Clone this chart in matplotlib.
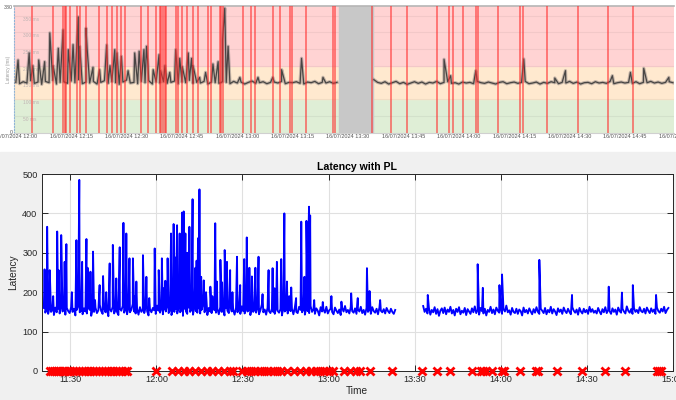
# Import necessary libraries
import numpy as np
import matplotlib
matplotlib.use('Agg')
import matplotlib.pyplot as plt
from matplotlib.patches import Rectangle

plt.rcParams['font.family'] = ['Liberation Sans', 'DejaVu Sans']

# ---------------- data: top screenshot panel (minutes after 12:00) ----------------
top_seg1_start, top_seg2_start = 0, 97
top_seg1 = [150, 146, 152, 148, 155, 147, 151, 144, 153, 149,
            156, 145, 150, 152, 147, 154, 149, 158, 146, 151,
            148, 153, 145, 150, 155, 147, 152, 149, 144, 151,
            157, 148, 150, 146, 153, 149, 155, 145, 151, 148,
            152, 147, 150, 154, 146, 151, 149, 156, 147, 150,
            148, 153, 145, 151, 149, 147, 152, 150, 146, 153,
            148, 151, 145, 150, 154, 147, 149, 152, 146, 150,
            151, 148, 153, 146, 150, 149, 152, 147, 145, 151,
            149, 153, 146, 150, 148, 152, 147, 150]
top_seg2 = [158, 150, 147, 152, 145, 149, 153, 146, 150, 144,
            148, 152, 147, 151, 145, 150, 148, 153, 146, 150,
            152, 147, 149, 145, 151, 148, 150, 146, 153, 149,
            147, 151, 148, 145, 150, 152, 146, 149, 151, 147,
            150, 153, 146, 148, 151, 145, 150, 147, 152, 149,
            146, 150, 148, 153, 147, 151, 145, 149, 150, 146,
            152, 148, 150, 147, 153, 146, 149, 151, 148, 150,
            147, 152, 146, 150, 149, 153, 148, 151, 147, 150,
            152, 149]
top_spike_t = [0.6, 3.6, 4.6, 6.2, 7.8, 9.2, 10.1, 11.5, 12.8, 14.2, 15.5, 16.9, 17.3, 19.0,
               19.3, 20.9, 22.7, 24.6, 25.5, 26.8, 27.4, 28.6, 30.4, 32.2, 33.4, 34.7, 35.4,
               35.8, 37.2, 38.8, 39.2, 40.4, 41.7, 43.3, 44.4, 45.1, 46.7, 47.6, 48.0, 49.8,
               51.4, 53.4, 54.8, 56.0, 56.6, 57.5, 60.7, 65.6, 69.6, 72.0, 77.4, 83.2,
               116.0, 117.8, 124.6, 137.6, 146.0, 148.9, 161.6, 166.5, 170.1, 176.9]
top_spike_v = [217, 238, 200, 217, 212, 298, 200, 252, 307, 248, 263, 346, 258, 312,
               252, 195, 188, 262, 200, 248, 238, 228, 185, 238, 243, 248, 258,
               200, 188, 233, 185, 200, 180, 248, 222, 197, 238, 222, 200, 165,
               180, 205, 212, 277, 372, 258, 165, 165, 165, 188, 222, 165,
               219, 170, 185, 220, 163, 185, 170, 180, 192, 165]
top_gap = (87.5, 96.7)
top_loss_t = [4.4, 10.1, 12.8, 13.3, 13.7, 14.6, 16.6, 17.3, 19.0, 22.6, 24.6, 26.1, 27.3,
              28.6, 29.5, 34.0, 35.8, 37.9, 39.0, 39.4, 39.9, 40.3, 40.8, 43.5, 43.9, 44.9,
              46.5, 48.0, 49.4, 52.1, 53.0, 55.2, 55.6, 56.0, 61.5, 63.8, 64.7, 69.7, 71.5,
              74.2, 74.7, 78.7, 85.9, 86.4, 96.6, 101.5, 106.1, 114.2, 117.3, 118.4, 121.2,
              124.6, 125.3, 130.7, 136.6, 137.5, 143.8, 152.3, 160.5, 167.3]
top_tick_min = [0, 15, 30, 45, 60, 75, 90, 105, 120, 135, 150, 165, 180]
top_tick_labels = ['16/07/2024 12:00', '16/07/2024 12:15', '16/07/2024 12:30', '16/07/2024 12:45',
                   '16/07/2024 13:00', '16/07/2024 13:15', '16/07/2024 13:30', '16/07/2024 13:45',
                   '16/07/2024 14:00', '16/07/2024 14:15', '16/07/2024 14:30', '16/07/2024 14:45',
                   '16/07/2024 15:00']
top_grid_ms = [50, 100, 150, 200, 250, 300, 350]

# ---------------- data: bottom "Latency with PL" (minutes after 11:00) ----------------
seg1_start, seg2_start = 20.75, 153.0   # samples every 0.5 min
seg1_lat = [160, 148, 157, 145, 163, 150, 155, 142, 161, 149, 158, 146, 165, 151, 156, 143, 160, 152, 147, 162,
            150, 158, 141, 155, 166, 149, 153, 144, 159, 151, 146, 163, 155, 140, 157, 150, 161, 147, 154, 168,
            152, 145, 160, 149, 156, 139, 158, 151, 163, 146, 155, 150, 142, 159, 153, 165, 148, 157, 144, 161,
            149, 155, 170, 151, 146, 158, 143, 162, 150, 156, 147, 164, 152, 141, 157, 149, 160, 154, 145, 166,
            153, 148, 159, 144, 156, 151, 168, 147, 155, 142, 160, 150, 157, 146, 163, 149, 154, 140, 158, 152,
            145, 161, 150, 156, 143, 165, 152, 148, 159, 146, 155, 171, 149, 157, 142, 160, 151, 147, 163, 154,
            148, 158, 144, 162, 150, 155, 141, 159, 153, 147, 166, 151, 156, 143, 161, 149, 157, 145, 164, 152,
            146, 159, 151, 155, 142, 163, 150, 157, 148, 160, 144, 154, 169, 149, 156, 143, 161, 152, 147, 158,
            150, 145, 162, 153, 148, 157, 141, 160, 151, 155, 146, 164, 152, 158, 144, 161, 150, 147, 163, 155,
            149, 156, 143, 160, 152, 147, 165, 150, 157, 145, 159, 153, 141, 162, 151, 156, 148, 163, 146, 154,
            158, 150, 144, 161, 153, 147, 156, 142, 160, 151, 165, 149, 155, 146, 162, 152, 148, 159, 145, 157,
            151, 163, 147, 155, 143, 160, 150, 156, 145, 162, 152, 148, 158, 144, 161, 153, 149, 157, 146, 160,
            152, 147, 158, 150, 145, 155]
seg2_lat = [165, 150, 158, 146, 160, 143, 155, 149, 162, 145, 157, 140, 153, 159, 147, 161, 144, 156, 150, 163,
            146, 155, 141, 158, 150, 162, 144, 153, 148, 160, 142, 157, 151, 145, 159, 149, 164, 147, 155, 143,
            160, 152, 146, 158, 141, 155, 150, 163, 147, 156, 144, 161, 153, 148, 159, 145, 157, 151, 166, 149,
            154, 143, 160, 150, 147, 158, 145, 156, 152, 141, 161, 149, 155, 146, 159, 151, 144, 157, 148, 162,
            150, 145, 158, 153, 147, 160, 144, 155, 149, 163, 146, 157, 151, 142, 159, 150, 156, 145, 161, 152,
            147, 158, 150, 144, 162, 153, 148, 156, 143, 160, 151, 146, 158, 149, 155, 145, 163, 150, 157, 148,
            153, 146, 160, 151, 144, 157, 149, 162, 147, 155, 152, 145, 159, 150, 156, 143, 161, 152, 148, 158,
            151, 146, 164, 153, 148, 157, 145, 160, 150, 155, 147, 162, 152, 149, 158, 146, 161, 153, 147, 159,
            150, 156, 145, 161, 152, 148, 158, 151, 163, 147, 155, 160]
spike_t = [21.0, 21.9, 22.8, 24.0, 25.4, 25.9, 26.8, 28.0, 28.6, 30.5, 32.1, 33.1, 34.1, 35.6, 36.0,
           37.0, 37.9, 38.6, 40.2, 41.4, 42.5, 43.7, 44.8, 46.0, 47.2, 48.5, 49.5, 50.6, 51.8,
           52.5, 53.0, 55.3, 56.5, 57.5, 59.4, 60.8, 61.9, 62.5, 63.1, 63.9, 65.1, 66.0, 66.6,
           67.2, 68.1, 68.9, 69.5, 70.1, 70.8, 71.5, 72.6, 73.6, 74.0, 74.5, 75.0, 75.6, 76.5,
           77.3, 78.8, 79.5, 80.5, 81.1, 82.3, 82.9, 83.8, 84.6, 85.7, 86.5, 88.1, 89.2, 90.6,
           91.5, 92.4, 93.3, 94.5, 95.6, 97.0, 99.1, 100.5, 101.2, 102.0, 103.5, 104.6, 105.5,
           106.3, 107.0, 108.7, 110.5, 111.6, 112.3, 112.8, 113.2, 113.6, 115.0, 118.0, 121.0,
           124.5, 127.9, 130.2, 133.4, 134.3, 138.0,
           154.6, 172.0, 173.8, 179.6, 180.5, 193.5, 204.9, 217.7, 222.3, 226.1, 234.2]
spike_v = [258, 366, 256, 190, 354, 256, 345, 277, 322, 200, 332, 485, 277, 335, 262,
           252, 303, 180, 218, 241, 200, 273, 320, 235, 314, 376, 349, 286, 286,
           190, 227, 294, 239, 185, 311, 256, 286, 210, 229, 286, 349, 373, 288,
           370, 349, 402, 405, 349, 300, 366, 436, 262, 280, 337, 461, 239, 230,
           200, 214, 190, 375, 227, 282, 225, 307, 277, 256, 200, 290, 218, 284,
           339, 262, 240, 262, 290, 195, 256, 261, 210, 277, 284, 400, 227,
           190, 212, 185, 379, 239, 381, 264, 417, 395, 180, 175, 190,
           176, 197, 185, 261, 203, 180,
           193, 271, 211, 218, 245, 282, 193, 214, 199, 218, 193]
loss_t = [22.8, 23.5, 24.3, 25.0, 25.8, 26.5, 27.3, 28.0, 29.0, 30.0, 31.0, 32.0, 33.0, 34.0,
          35.0, 36.0, 37.0, 38.0, 39.0, 40.0, 41.0, 42.0, 43.0, 44.0, 45.0, 46.0, 47.0,
          48.0, 49.0, 49.7, 60.0, 65.5, 67.5, 69.5, 71.5, 73.5, 75.5, 77.5, 79.5, 81.5,
          83.5, 85.5, 86.7, 90.0, 91.5, 93.0, 94.5, 96.0, 97.5, 99.0, 100.5, 102.0,
          103.5, 105.5, 108.0, 110.0, 112.0, 114.0, 115.5, 117.0, 118.5, 120.0, 121.5,
          125.5, 127.5, 129.5, 131.0, 134.5, 142.3, 152.5, 157.8, 162.2, 170.0, 173.0,
          174.0, 175.0, 177.1, 180.6, 181.3, 186.8, 192.2, 193.0, 199.6, 208.3, 216.4,
          223.4, 234.5, 235.3, 236.0]
time_ticks = [30, 60, 90, 120, 150, 180, 210, 240]
time_labels = ['11:30', '12:00', '12:30', '13:00', '13:30', '14:00', '14:30', '15:00']
lat_ticks = [0, 100, 200, 300, 400, 500]


def merge(start, step, base, sp_t, sp_v):
    # base samples on a regular grid, plus spikes that fall inside the segment
    t = start + step * np.arange(len(base))
    sp_t = np.array(sp_t)
    sp_v = np.array(sp_v)
    keep = (sp_t >= t[0]) & (sp_t <= t[-1])
    all_t = np.concatenate([t, sp_t[keep]])
    all_v = np.concatenate([np.array(base, float), sp_v[keep]])
    order = np.argsort(all_t, kind='stable')
    return all_t[order], all_v[order]


fig = plt.figure(figsize=(6.76, 4.0), dpi=100, facecolor='white')
# grey MATLAB figure background for the lower half
fig.patches.append(Rectangle((0, 0), 1, 1 - 152 / 400, transform=fig.transFigure,
                             color='#f0f0f0', zorder=-5))

# ---------------- top panel ----------------
ax1 = fig.add_axes([14 / 676, 1 - 132.5 / 400, 660 / 676, 127 / 400])
ax1.set_xlim(-0.5, 178.3)
ax1.set_ylim(0, 380)
ax1.axhspan(0, 100, color='#dfeed6', zorder=0)
ax1.axhspan(100, 200, color='#ffe9cf', zorder=0)
ax1.axhspan(200, 380, color='#ffd3d3', zorder=0)
for g in top_grid_ms:
    ax1.axhline(g, color='black', alpha=0.05, lw=0.8, zorder=1)
    ax1.text(2, g - 3, f'{g} ms', fontsize=3.5, color='#c0b4b4', va='top', zorder=1)
ax1.axvspan(top_gap[0], top_gap[1], color='#c8c8c8', zorder=2)

for start, base in [(top_seg1_start, top_seg1), (top_seg2_start, top_seg2)]:
    tt, vv = merge(start, 1.0, base, top_spike_t, top_spike_v)
    ax1.plot(tt, vv, color='#8a8080', alpha=0.5, lw=2.4, zorder=3)
    ax1.plot(tt, vv, color='#333333', alpha=0.85, lw=0.9, zorder=4)

for t in top_loss_t:
    ax1.axvline(t, color='#ff2a2a', alpha=0.6, lw=1.3, zorder=5)

ax1.spines['right'].set_visible(False)
ax1.spines['top'].set_color('#b5b5b5')
ax1.spines['top'].set_linewidth(1.2)
ax1.spines['bottom'].set_color('#d0d0d0')
ax1.spines['left'].set_color('#8fb4d8')
ax1.spines['left'].set_linestyle(':')
ax1.set_xticks([])
ax1.set_yticks([])
ax1.text(-0.002, 0.985, '380', transform=ax1.transAxes, fontsize=3.8, color='#555555',
         ha='right', va='center')
ax1.text(-0.002, 0.0, '0', transform=ax1.transAxes, fontsize=3.8, color='#555555',
         ha='right', va='center')
ax1.text(-0.004, 0.5, 'Latency (ms)', transform=ax1.transAxes, fontsize=3.3, color='#999999',
         rotation=90, ha='right', va='center')
for m, lab in zip(top_tick_min, top_tick_labels):
    ax1.text(m, -13, lab, fontsize=4, color='#555555', ha='center', va='center', clip_on=False)

# ---------------- bottom panel ----------------
ax2 = fig.add_axes([41.7 / 676, 1 - 371 / 400, 631 / 676, 197 / 400])
ax2.set_facecolor('white')
t1, v1 = merge(seg1_start, 0.5, seg1_lat, spike_t, spike_v)
t2, v2 = merge(seg2_start, 0.5, seg2_lat, spike_t, spike_v)
ax2.plot(t1, v1, color='#0000ff', lw=1.35, zorder=3)
ax2.plot(t2, v2, color='#0000ff', lw=1.35, zorder=3)
ax2.plot(loss_t, np.zeros(len(loss_t)), linestyle='none', marker='x', color='#ff0000',
         markersize=5.5, markeredgewidth=2.0, zorder=4, clip_on=False)

ax2.set_xlim(20, 240)
ax2.set_ylim(0, 500)
ax2.set_xticks(time_ticks)
ax2.set_xticklabels(time_labels)
ax2.set_yticks(lat_ticks)
ax2.grid(True, color='#e0e0e0', lw=0.8)
ax2.set_axisbelow(True)
ax2.tick_params(direction='in', top=True, right=True, length=4.5, width=0.7,
                colors='#262626', labelsize=6.6, pad=3)
for s in ax2.spines.values():
    s.set_color('#262626')
    s.set_linewidth(0.7)
ax2.set_title('Latency with PL', fontsize=7.6, fontweight='bold', pad=3, color='black')
ax2.set_xlabel('Time', fontsize=7.3, labelpad=1, color='#262626')
ax2.set_ylabel('Latency', fontsize=7.3, labelpad=3, color='#262626')

plt.savefig('out.png', dpi=100, facecolor=fig.get_facecolor())
